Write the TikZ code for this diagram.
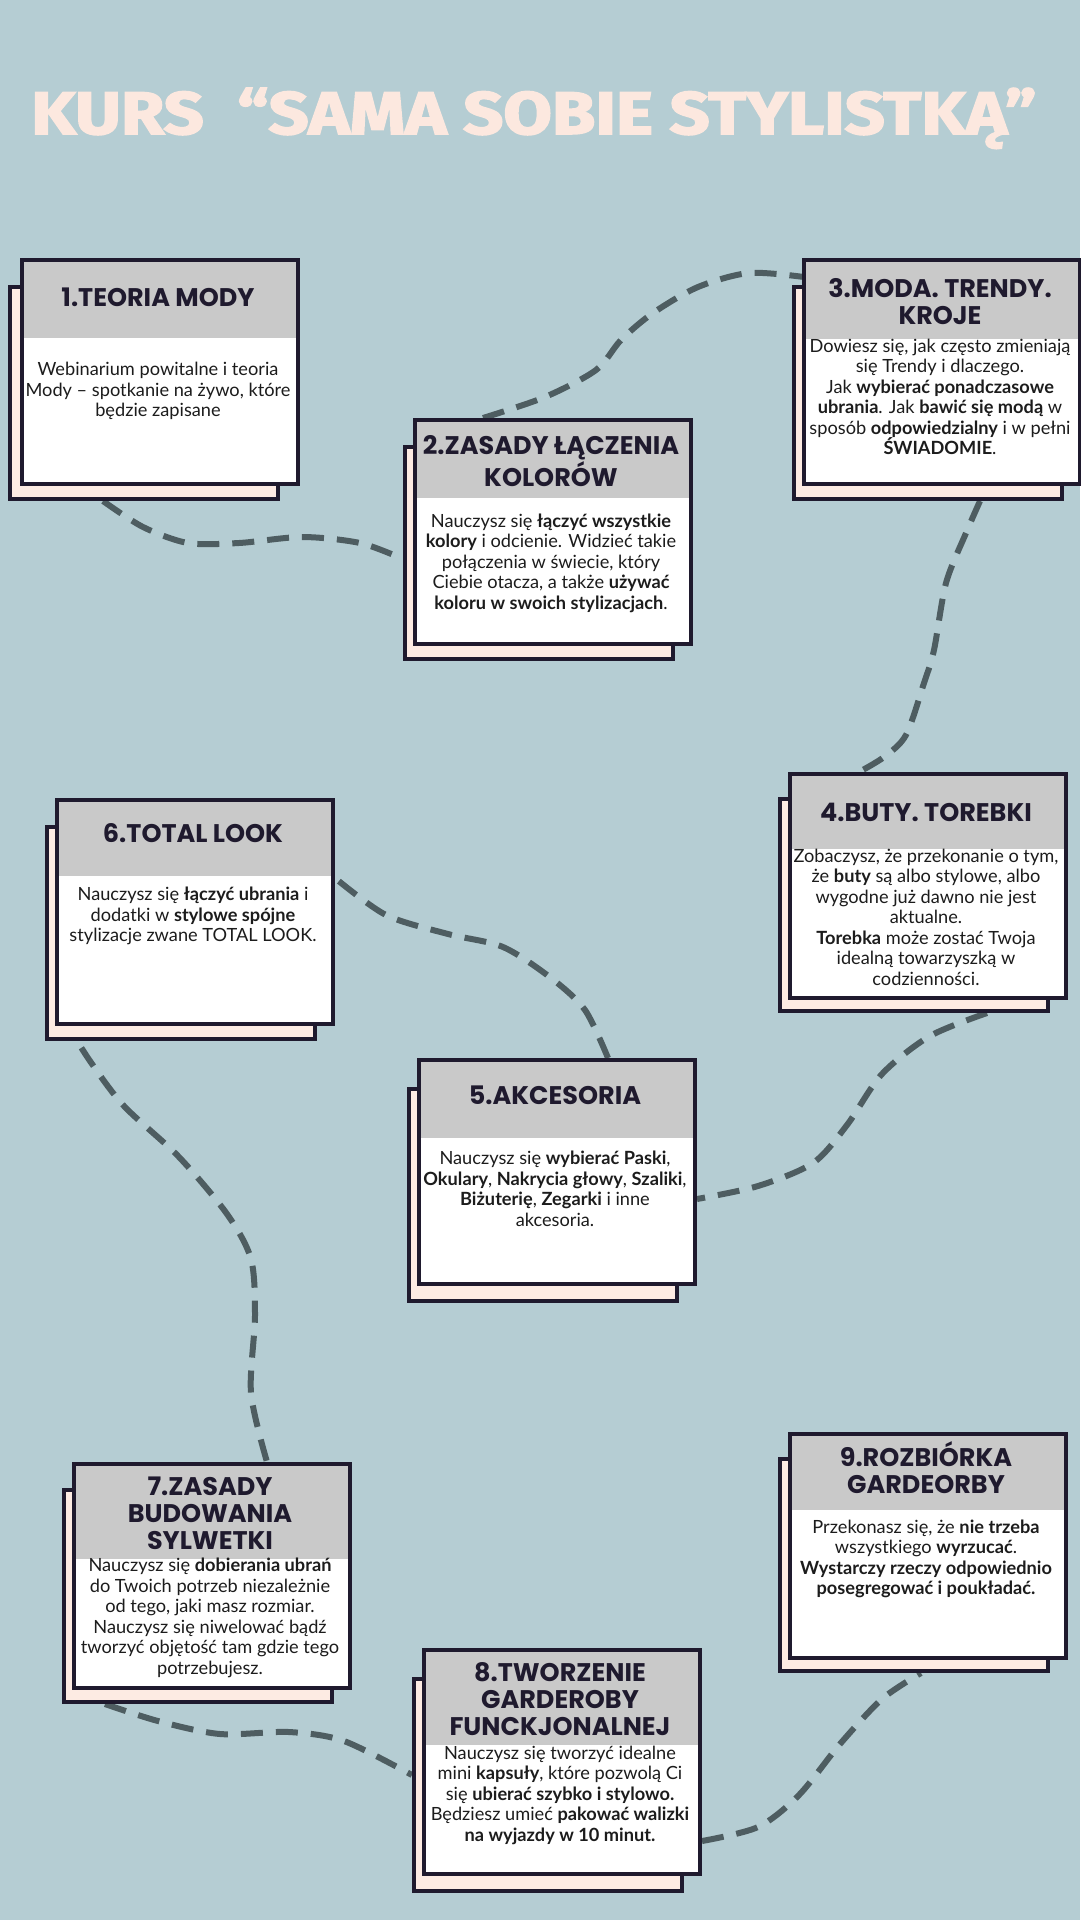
\documentclass[tikz,border=0pt]{standalone}
\usepackage{fontspec}
\usepackage{graphicx}
\setmainfont{Lato}
\newfontfamily\headfont{Poppins}
\newfontfamily\titlefont{Fira Sans}[BoldFeatures={FakeBold=2.5}]
\definecolor{paper}{HTML}{B5CDD3}
\definecolor{blush}{HTML}{FCE8DF}
\definecolor{peach}{HTML}{FDEBE3}
\definecolor{headgray}{HTML}{C9C9C9}
\definecolor{ink}{HTML}{1F1A2E}
\definecolor{inktext}{HTML}{1C1C1C}
\definecolor{slate}{HTML}{4E5D61}
\pgfdeclarelayer{trailayer}
\pgfsetlayers{trailayer,main}

\begin{document}
\begin{tikzpicture}[x=1pt,y=-1pt]
            \tikzset{backcard/.style = {rectangle, draw=ink, fill=peach, line width=4pt, minimum width=268pt, minimum height=212pt, inner sep=0pt, anchor=north west}}
            \tikzset{frontcard/.style = {rectangle, draw=ink, fill=white, line width=4pt, minimum width=276pt, minimum height=224pt, inner sep=0pt, anchor=north west,
                path picture={\fill[headgray] (path picture bounding box.north west) rectangle ([yshift=-#1]path picture bounding box.north east);}}}
            \tikzset{headtext/.style = {text=ink, align=center, inner sep=0pt, font=\headfont\bfseries\fontsize{25.5}{27}\selectfont}}
            \tikzset{bodytext/.style = {text=inktext, align=center, inner sep=0pt, font=\fontsize{18.2}{20.5}\selectfont}}
            \tikzset{trail/.style = {draw=slate, line width=6pt, dash pattern=on 22pt off 13pt}}
            \useasboundingbox (0,0) rectangle (1080,1920);

            \node[anchor=base west, inner sep=0pt, text=blush] (title) at (31,134) {\resizebox{1005pt}{46pt}{\titlefont\bfseries KURS\ \ “SAMA SOBIE STYLISTKĄ”}};

            \node[backcard] (b1) at (8,285) {};
            \node[frontcard=78pt] (c1) at (20,258) {};
            \node[headtext] (h1) at (158,297) {1.TEORIA MODY};
            \node[bodytext] (d1) at (158,391) {Webinarium powitalne i teoria\\Mody – spotkanie na żywo, które\\będzie zapisane};

            \node[backcard] (b2) at (403,445) {};
            \node[frontcard=78pt] (c2) at (413,418) {};
            \node[headtext] (h2) at (551,461) {2.ZASADY ŁĄCZENIA\\KOLORÓW};
            \node[bodytext] (d2) at (551,563) {Nauczysz się \textbf{łączyć wszystkie}\\\textbf{kolory} i odcienie. Widzieć takie\\połączenia w świecie, który\\Ciebie otacza, a także \textbf{używać}\\\textbf{koloru w swoich stylizacjach}.};

            \node[backcard] (b3) at (792,285) {};
            \node[frontcard=79pt] (c3) at (802,258) {};
            \node[headtext] (h3) at (940,302) {3.MODA. TRENDY.\\KROJE};
            \node[bodytext] (d3) at (940,397) {Dowiesz się, jak często zmieniają\\się Trendy i dlaczego.\\Jak \textbf{wybierać ponadczasowe}\\\textbf{ubrania}. Jak \textbf{bawić się modą} w\\sposób \textbf{odpowiedzialny} i w pełni\\\textbf{ŚWIADOMIE}.};

            \node[backcard] (b4) at (778,797) {};
            \node[frontcard=75pt] (c4) at (788,772) {};
            \node[headtext] (h4) at (926,812) {4.BUTY. TOREBKI};
            \node[bodytext] (d4) at (926,917) {Zobaczysz, że przekonanie o tym,\\że \textbf{buty} są albo stylowe, albo\\wygodne już dawno nie jest\\aktualne.\\\textbf{Torebka} może zostać Twoja\\idealną towarzyszką w\\codzienności.};

            \node[backcard] (b5) at (407,1087) {};
            \node[frontcard=78pt] (c5) at (417,1058) {};
            \node[headtext] (h5) at (555,1095) {5.AKCESORIA};
            \node[bodytext] (d5) at (555,1189) {Nauczysz się \textbf{wybierać Paski},\\\textbf{Okulary}, \textbf{Nakrycia głowy}, \textbf{Szaliki},\\\textbf{Biżuterię}, \textbf{Zegarki} i inne\\akcesoria.};

            \node[backcard] (b6) at (45,825) {};
            \node[frontcard=76pt] (c6) at (55,798) {};
            \node[headtext] (h6) at (193,833) {6.TOTAL LOOK};
            \node[bodytext] (d6) at (193,916) {Nauczysz się \textbf{łączyć ubrania} i\\dodatki w \textbf{stylowe spójne}\\stylizacje zwane TOTAL LOOK.};

            \node[backcard] (b7) at (62,1488) {};
            \node[frontcard=95pt] (c7) at (72,1462) {};
            \node[headtext] (h7) at (210,1513) {7.ZASADY\\BUDOWANIA\\SYLWETKI};
            \node[bodytext] (d7) at (210,1618) {Nauczysz się \textbf{dobierania ubrań}\\do Twoich potrzeb niezależnie\\od tego, jaki masz rozmiar.\\Nauczysz się niwelować bądź\\tworzyć objętość tam gdzie tego\\potrzebujesz.};

            \node[backcard] (b8) at (412,1677) {};
            \node[frontcard=95pt] (c8) at (422,1648) {};
            \node[headtext] (h8) at (560,1699) {8.TWORZENIE\\GARDEROBY\\FUNCKJONALNEJ};
            \node[bodytext] (d8) at (560,1795) {Nauczysz się tworzyć idealne\\mini \textbf{kapsuły}, które pozwolą Ci\\się \textbf{ubierać szybko i stylowo.}\\Będziesz umieć \textbf{pakować walizki}\\\textbf{na wyjazdy w 10 minut.}};

            \node[backcard] (b9) at (778,1457) {};
            \node[frontcard=76pt] (c9) at (788,1432) {};
            \node[headtext] (h9) at (926,1468) {9.ROZBIÓRKA\\GARDEORBY};
            \node[bodytext] (d9) at (926,1559) {Przekonasz się, że \textbf{nie trzeba}\\wszystkiego \textbf{wyrzucać}.\\\textbf{Wystarczy rzeczy odpowiednio}\\\textbf{posegregować i poukładać.}};

            \begin{pgfonlayer}{trailayer}
            \fill[paper] (0,0) rectangle (1080,1920);
            \draw[trail] plot[smooth] coordinates {([xshift=-41pt]b1.south) (143,527) (188,543) (239,543) (302,537) (360,543) ([yshift=-6pt]b2.west)};
            \draw[trail] plot[smooth] coordinates {([xshift=-70pt]c2.north) (545,397) (596,370) (621,340) (653,313) (698,287) (749,273) ([xshift=2pt,yshift=-19pt]c3.north west)};
            \draw[trail] plot[smooth] coordinates {([xshift=52pt]b3.south) (966,533) (946,583) (934,650) (924,683) (906,735) (884,757) ([xshift=-69pt]c4.north)};
            \draw[trail] plot[smooth] coordinates {([xshift=73pt]b4.south) (930,1036) (882,1074) (847,1125) (813,1163) (758,1186) ([yshift=-27pt]c5.east)};
            \draw[trail] plot[smooth] coordinates {([xshift=51pt]c5.north) (585,1010) (551,978) (503,947) (448,934) (386,915) ([yshift=34pt]c6.east)};
            \draw[trail] plot[smooth] coordinates {([xshift=8pt,yshift=8pt]c6.south west) (90,1061) (124,1106) (179,1157) (227,1214) (251,1259) (255,1316) (251,1393) ([xshift=55pt]c7.north)};
            \draw[trail] plot[smooth] coordinates {([xshift=-93pt]b7.south) (158,1721) (220,1734) (289,1732) (344,1741) ([yshift=10pt]b8.west)};
            \draw[trail] plot[smooth] coordinates {([yshift=-79pt]c8.east) (758,1827) (799,1795) (840,1744) (882,1699) ([xshift=7pt]b9.south)};
            \end{pgfonlayer}

        \end{tikzpicture}
\end{document}
